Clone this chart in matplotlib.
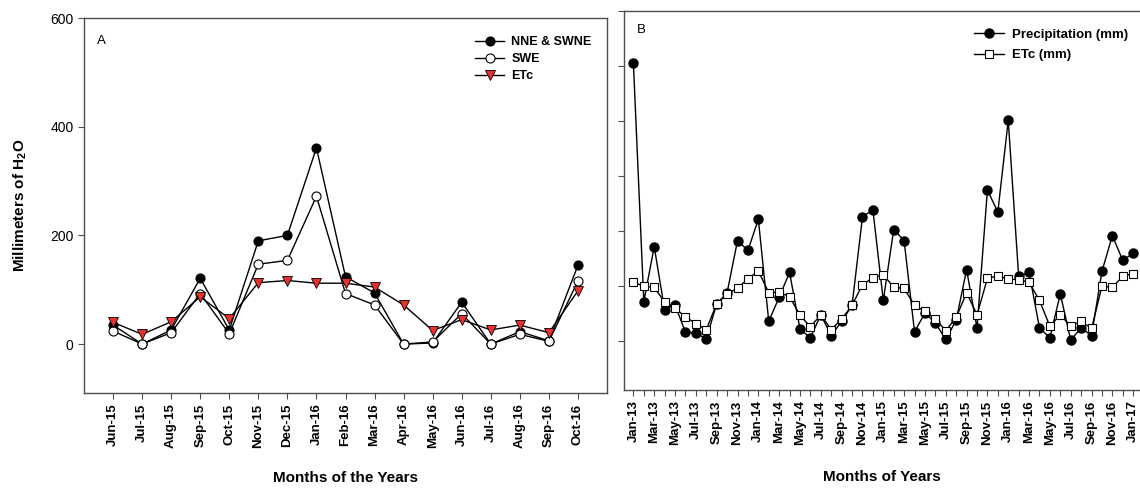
import matplotlib
matplotlib.use("Agg")
import matplotlib.pyplot as plt
import numpy as np

plt.rcParams['font.family'] = ['Liberation Sans', 'DejaVu Sans']
plt.rcParams['mathtext.fontset'] = 'custom'
plt.rcParams['mathtext.rm'] = 'Liberation Sans'
plt.rcParams['mathtext.bf'] = 'Liberation Sans:bold'
plt.rcParams['mathtext.default'] = 'bf'

# ---------------- Panel A data ----------------
months_a = ["Jun-15", "Jul-15", "Aug-15", "Sep-15", "Oct-15", "Nov-15", "Dec-15",
            "Jan-16", "Feb-16", "Mar-16", "Apr-16", "May-16", "Jun-16", "Jul-16",
            "Aug-16", "Sep-16", "Oct-16"]
nne_swne = [35, 0, 26, 121, 26, 190, 200, 361, 124, 94, 0, 2, 77, 0, 23, 6, 145]
swe = [24, 0, 21, 93, 19, 147, 154, 272, 93, 72, 0, 4, 56, 0, 18, 5, 116]
etc_a = [40, 18, 41, 87, 47, 113, 117, 112, 112, 105, 72, 25, 45, 26, 35, 21, 98]

# ---------------- Panel B data ----------------
months_b = ["Jan-13", "Feb-13", "Mar-13", "Apr-13", "May-13", "Jun-13", "Jul-13", "Aug-13",
            "Sep-13", "Oct-13", "Nov-13", "Dec-13", "Jan-14", "Feb-14", "Mar-14", "Apr-14",
            "May-14", "Jun-14", "Jul-14", "Aug-14", "Sep-14", "Oct-14", "Nov-14", "Dec-14",
            "Jan-15", "Feb-15", "Mar-15", "Apr-15", "May-15", "Jun-15", "Jul-15", "Aug-15",
            "Sep-15", "Oct-15", "Nov-15", "Dec-15", "Jan-16", "Feb-16", "Mar-16", "Apr-16",
            "May-16", "Jun-16", "Jul-16", "Aug-16", "Sep-16", "Oct-16", "Nov-16", "Dec-16",
            "Jan-17"]
precip = [505, 71, 171, 56, 65, 15, 14, 3, 67, 87, 182, 164, 221, 35, 79, 124,
          21, 5, 47, 9, 35, 64, 225, 238, 73, 202, 182, 16, 50, 32, 2, 37,
          129, 23, 274, 234, 401, 117, 124, 23, 5, 85, 1, 23, 9, 126, 191, 146,
          159]
etc_b = [106, 99, 97, 70, 59, 43, 31, 20, 67, 84, 96, 112, 127, 87, 88, 80,
         46, 25, 47, 20, 39, 64, 102, 114, 120, 97, 95, 64, 53, 39, 18, 42,
         87, 47, 113, 118, 112, 111, 106, 73, 26, 47, 26, 35, 22, 99, 97, 117,
         122]

W, H = 1140, 488
fig = plt.figure(figsize=(W / 100, H / 100), dpi=100)

spine_col = '#4d4d4d'


def style_axes(ax):
    for s in ax.spines.values():
        s.set_color(spine_col)
        s.set_linewidth(1.0)
    ax.tick_params(axis='both', direction='out', length=4, width=0.8,
                   color=spine_col)


# Panel A
axA = fig.add_axes([84 / W, 1 - 393 / H, (607 - 84) / W, (393 - 18) / H])
xa = np.arange(len(months_a))
axA.plot(xa, nne_swne, '-', color='black', lw=1.0, marker='o', ms=6.5,
         mfc='black', mec='black', mew=0.8, label='NNE & SWNE', zorder=3)
axA.plot(xa, swe, '-', color='black', lw=1.0, marker='o', ms=6.5,
         mfc='white', mec='black', mew=0.8, label='SWE', zorder=4)
axA.plot(xa, etc_a, '-', color='black', lw=1.0, marker='v', ms=6.5,
         mfc='#e8312f', mec='black', mew=0.6, label='ETc', zorder=5)
axA.set_xlim(-1, 17)
axA.set_ylim(-90, 600)
axA.set_yticks([0, 200, 400, 600])
axA.set_yticklabels(['0', '200', '400', '600'], fontsize=10)
axA.set_xticks(xa)
axA.set_xticklabels(months_a, rotation=90, fontsize=9.5, fontweight='bold')
style_axes(axA)
axA.set_xlabel('Months of the Years', fontsize=11, fontweight='bold', labelpad=16)
axA.set_ylabel('Millimeters of H$_{2}$O', fontsize=11, fontweight='bold', labelpad=15)
axA.text(0.025, 0.955, 'A', transform=axA.transAxes, fontsize=9.5, va='top', ha='left')
axA.legend(loc='upper right', bbox_to_anchor=(0.985, 0.972), frameon=False,
           prop={'weight': 'bold', 'size': 9}, handlelength=2.3,
           handletextpad=0.6, labelspacing=0.4, borderaxespad=0.2)

# Panel B
axB = fig.add_axes([623.5 / W, 1 - 390 / H, (1141 - 623.5) / W, (390 - 11) / H])
xb = np.arange(len(months_b))
axB.plot(xb, precip, '-', color='black', lw=1.0, marker='o', ms=6.5,
         mfc='black', mec='black', label='Precipitation (mm)', zorder=3)
axB.plot(xb, etc_b, '-', color='black', lw=1.0, marker='s', ms=5.5,
         mfc='white', mec='black', mew=0.8, label='ETc (mm)', zorder=4)
axB.set_xlim(-0.95, 48.75)
axB.set_ylim(-90, 600)
axB.set_yticks([0, 100, 200, 300, 400, 500, 600])
axB.set_yticklabels([])
axB.set_xticks(xb)
axB.set_xticklabels([m if i % 2 == 0 else '' for i, m in enumerate(months_b)],
                    rotation=90, fontsize=9.5, fontweight='bold')
style_axes(axB)
axB.spines['right'].set_visible(False)
axB.set_xlabel('Months of Years', fontsize=11, fontweight='bold', labelpad=18)
axB.text(0.025, 0.965, 'B', transform=axB.transAxes, fontsize=9.5, va='top', ha='left')
axB.legend(loc='upper right', bbox_to_anchor=(0.99, 0.975), frameon=False,
           prop={'weight': 'bold', 'size': 9.5}, handlelength=2.3,
           handletextpad=0.6, labelspacing=0.65, borderaxespad=0.2)

fig.savefig('out.png', dpi=100)
